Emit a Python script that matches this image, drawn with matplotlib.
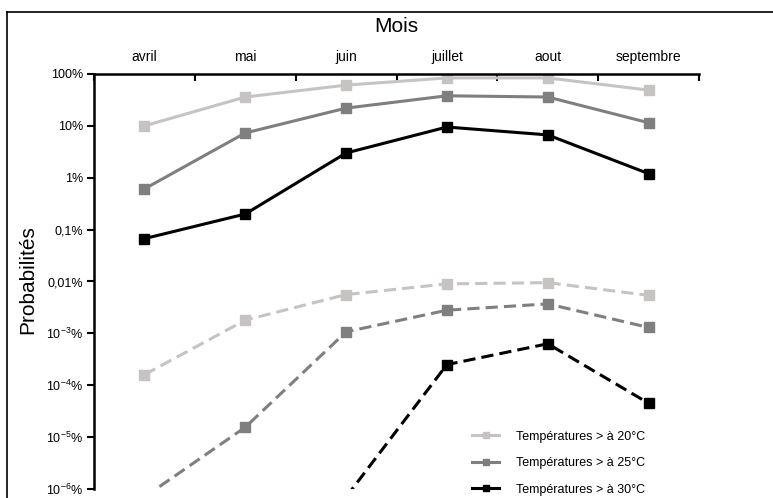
import numpy as np
import matplotlib
matplotlib.use("Agg")
import matplotlib.pyplot as plt
from matplotlib.lines import Line2D

plt.rcParams['font.family'] = ['Liberation Sans', 'DejaVu Sans']
plt.rcParams['mathtext.fontset'] = 'custom'
plt.rcParams['mathtext.rm'] = 'Liberation Sans'
plt.rcParams['mathtext.it'] = 'Liberation Sans'

# months along the top axis
mois = ['avril', 'mai', 'juin', 'juillet', 'aout', 'septembre']

# probabilities in percent, solid lines
p20 = [10, 36, 61, 84, 84, 49]
p25 = [0.61, 7.3, 22, 38, 36, 11.5]
p30 = [0.067, 0.2, 3.0, 9.5, 6.7, 1.2]

# probabilities in percent, dashed lines (values below 1e-6 % fall off the chart)
q20 = [1.6e-4, 1.8e-3, 5.6e-3, 9.0e-3, 9.5e-3, 5.4e-3]
q25 = [7e-7, 1.55e-5, 1.07e-3, 2.8e-3, 3.7e-3, 1.3e-3]
q30 = [np.nan, np.nan, 7e-7, 2.5e-4, 6.3e-4, 4.5e-5]

ytick_vals = [100, 10, 1, 0.1, 0.01, 1e-3, 1e-4, 1e-5, 1e-6]
ytick_labels = ['100%', '10%', '1%', '0,1%', '0,01%',
                r'10$^{\mathrm{-3}}$%', r'10$^{\mathrm{-4}}$%',
                r'10$^{\mathrm{-5}}$%', r'10$^{\mathrm{-6}}$%']

legend_labels = ['Températures > à 20°C', 'Températures > à 25°C', 'Températures > à 30°C']
colors = ['#c8c3c3', '#7f7f7f', '#000000']

fig = plt.figure(figsize=(7.73, 4.98), dpi=100)
ax = fig.add_axes([94 / 773, 1 - 489 / 498, 605 / 773, 415 / 498])

x = np.arange(len(mois))
for ys, c in zip([p20, p25, p30], colors):
    ax.plot(x, ys, color=c, lw=2.2, marker='s', ms=7.5)
for ys, c in zip([q20, q25, q30], colors):
    ax.plot(x, ys, color=c, lw=2.2, ls=(0, (4, 2)), marker='s', ms=7.5)

ax.set_yscale('log')
ax.set_ylim(1e-6, 100)
ax.set_xlim(-0.5, len(mois) - 0.5)

ax.set_yticks(ytick_vals)
ax.set_yticklabels(ytick_labels, fontsize=9)
ax.yaxis.set_minor_locator(plt.NullLocator())
ax.tick_params(axis='y', direction='out', length=5, width=1.5, pad=3)

ax.xaxis.tick_top()
ax.set_xticks(x)
ax.set_xticklabels(mois, fontsize=10)
ax.set_xticks(np.arange(-0.5, len(mois)), minor=True)
ax.tick_params(axis='x', which='major', length=0, pad=7)
ax.tick_params(axis='x', which='minor', direction='in', length=5, width=1.5)

ax.spines['bottom'].set_visible(False)
ax.spines['right'].set_visible(False)
ax.spines['left'].set_linewidth(1.8)
ax.spines['top'].set_linewidth(1.8)

fig.text(396 / 773, 1 - 27 / 498, 'Mois', fontsize=15, ha='center', va='center')
fig.text(28 / 773, 1 - 280 / 498, 'Probabilités', fontsize=15, rotation=90,
         ha='center', va='center')

handles = [Line2D([], [], color=c, lw=2.2, marker='s', ms=5) for c in colors]
ax.legend(handles, legend_labels, loc='lower left', bbox_to_anchor=(0.606, -0.043),
          frameon=False, fontsize=9, handlelength=2.2, labelspacing=1.15,
          handletextpad=1.3)

# outer frame (top and left edges only are in view)
fig.add_artist(Line2D([7 / 773, 1], [1 - 12 / 498, 1 - 12 / 498], color='black', lw=1.2))
fig.add_artist(Line2D([7 / 773, 7 / 773], [0, 1 - 12 / 498], color='black', lw=1.2))

fig.savefig('out.png', dpi=100)
